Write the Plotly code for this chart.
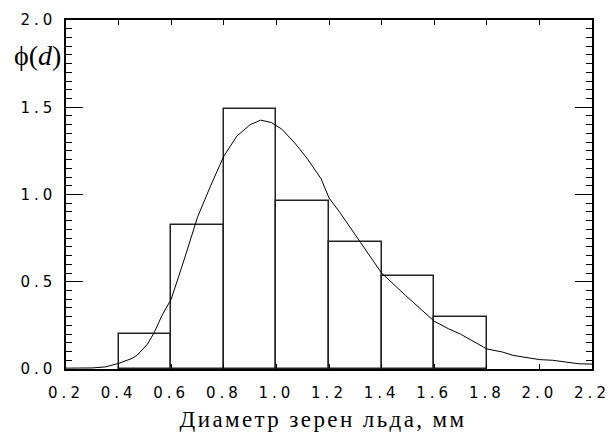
import plotly.graph_objects as go

# Histogram bins (left edges, width 0.2 mm) and heights
bin_left = [0.4, 0.6, 0.8, 1.0, 1.2, 1.4, 1.6]
bin_height = [0.20, 0.825, 1.49, 0.96, 0.725, 0.535, 0.30]
bin_width = 0.2

# Smooth density curve
curve_x = [0.20, 0.25, 0.30, 0.35, 0.40, 0.45, 0.47, 0.51, 0.535, 0.566, 0.60,
           0.65, 0.70, 0.75, 0.80, 0.85, 0.90, 0.94, 0.98, 1.02, 1.07, 1.12,
           1.17, 1.20, 1.24, 1.32, 1.40, 1.49, 1.60, 1.655, 1.70, 1.80, 1.86,
           1.90, 2.00, 2.05, 2.10, 2.15, 2.20]
curve_y = [0.005, 0.005, 0.006, 0.012, 0.032, 0.06, 0.078, 0.143, 0.208, 0.31, 0.40,
           0.63, 0.87, 1.05, 1.22, 1.335, 1.40, 1.426, 1.413, 1.375, 1.295, 1.20,
           1.09, 0.98, 0.90, 0.725, 0.55, 0.423, 0.274, 0.23, 0.20, 0.115, 0.097,
           0.078, 0.054, 0.05, 0.039, 0.03, 0.028]

x_ticks = [0.2, 0.4, 0.6, 0.8, 1.0, 1.2, 1.4, 1.6, 1.8, 2.0, 2.2]
y_ticks = [0.0, 0.5, 1.0, 1.5, 2.0]

x_title = "Диаметр зерен льда, мм"
y_title = "ϕ(<i>d</i>)"

fig = go.Figure()
fig.add_trace(go.Bar(
    x=[l + bin_width / 2 for l in bin_left], y=bin_height, width=bin_width,
    marker=dict(color="rgba(0,0,0,0)", line=dict(color="#222", width=1.5)),
    showlegend=False, hoverinfo="skip"))
fig.add_trace(go.Scatter(
    x=curve_x, y=curve_y, mode="lines",
    line=dict(color="black", width=1), showlegend=False))

tickfont = dict(family="DejaVu Sans", size=15, color="black")
fig.update_layout(
    width=615, height=438,
    margin=dict(l=66, r=17, t=11, b=69),
    plot_bgcolor="white", paper_bgcolor="white",
    xaxis=dict(range=[0.2, 2.2], tickvals=x_ticks,
               ticktext=[f"{v:.1f}" for v in x_ticks],
               ticks="inside", ticklen=5, tickwidth=1.2, tickcolor="black",
               showline=True, linecolor="black", linewidth=1.5,
               mirror="allticks", showgrid=False, zeroline=False,
               tickfont=tickfont, ticklabelstandoff=9),
    yaxis=dict(range=[0, 2], tickvals=y_ticks,
               ticktext=[f"{v:.1f}" for v in y_ticks],
               ticks="inside", ticklen=17, tickwidth=1.2, tickcolor="black",
               minor=dict(dtick=0.05, ticks="inside", ticklen=6, tickwidth=1.2,
                          tickcolor="black", showgrid=False),
               showline=True, linecolor="black", linewidth=1.5,
               mirror="allticks", showgrid=False, zeroline=False,
               tickfont=tickfont, ticklabelstandoff=5),
    bargap=0,
    annotations=[
        dict(text=y_title, xref="paper", yref="paper",
             x=-0.055, y=0.898, xanchor="center", yanchor="middle",
             showarrow=False,
             font=dict(family="Liberation Serif", size=28, color="black")),
        dict(text=x_title, xref="paper", yref="paper",
             x=0.49, y=-0.145, xanchor="center", yanchor="middle",
             showarrow=False,
             font=dict(family="Liberation Serif", size=23, color="black")),
    ],
)

# Widen character spacing of tick labels and axis title, as in the reference
post = """
var gd = document.getElementById('{plot_id}');
gd.querySelectorAll('.xtick text, .ytick text').forEach(function(t){ t.style.letterSpacing = '4px'; });
gd.querySelectorAll('.annotation-text').forEach(function(t){
  if (t.textContent.indexOf('Диаметр') >= 0) { t.style.letterSpacing = '2.4px'; }
});
"""

fig.write_html("out.html", post_script=post)
